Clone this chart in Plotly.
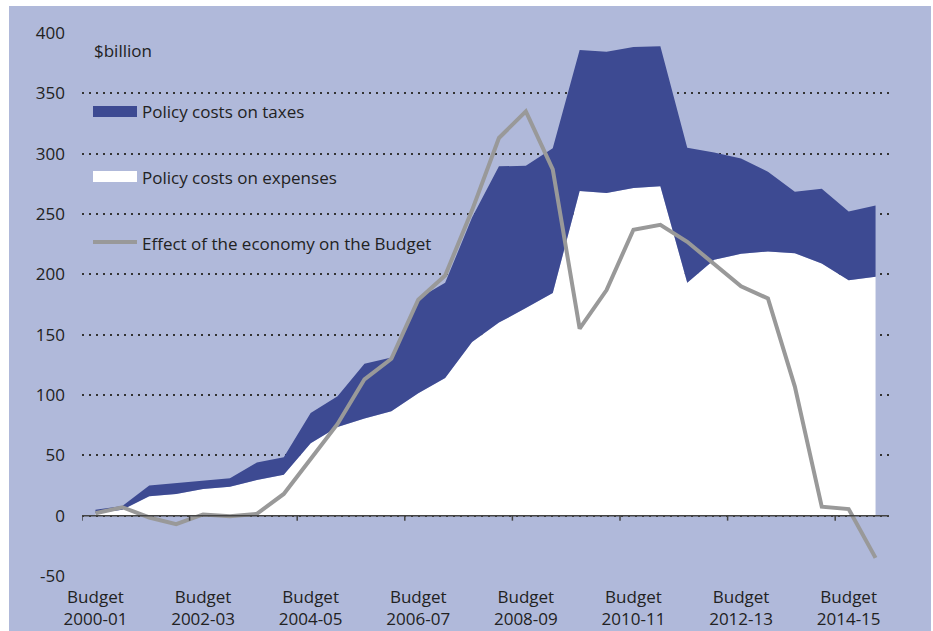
import plotly.graph_objects as go

# Half-yearly estimates: the Budget and the mid-year update for each financial year
years = ["2000-01", "2001-02", "2002-03", "2003-04", "2004-05", "2005-06", "2006-07",
         "2007-08", "2008-09", "2009-10", "2010-11", "2011-12", "2012-13", "2013-14",
         "2014-15"]
periods = []
for fy in years:
    periods += ["Budget " + fy, "MYEFO " + fy]

# $billion
expenses = [2, 5, 16, 18, 22, 24, 29.5, 34, 60, 73.5, 80.5, 86.5, 101.5, 114, 144,
            160, 172, 184.5, 269, 267.5, 271.5, 273, 193, 212, 217, 219, 217.5, 209,
            195, 198]
taxes = [3, 3, 9, 9, 7, 7, 14.5, 14.5, 25, 25.5, 45.5, 44.5, 78.5, 79, 103, 129.5,
         118, 120, 117, 117, 117, 116, 112, 89, 79, 66, 51, 62, 57, 59]
economy = [2, 7, -1.5, -7, 1, -0.5, 1.5, 18, 47, 76, 113, 130, 179, 199, 253, 313,
           335, 287, 155, 187, 237, 241, 227, 209, 190, 180, 107, 7.5, 5.5, -35]

# every second Budget is labelled
label_periods = periods[0::4]
label_text = ["Budget<br>" + p.split(" ")[1] for p in label_periods]
y_ticks = list(range(-50, 401, 50))
y_text = [str(v) for v in y_ticks]

BG = "#B0B9DA"
BLUE = "#3D4A92"
GREY = "#999999"
INK = "#222222"
AXIS = "#444444"
FONT = "Open Sans"

W, H = 933, 631
ML, MR, MT, MB = 82, 44, 33, 55
PW, PH = W - ML - MR, H - MT - MB


def px_x(x):
    return (x - ML) / PW


def px_y(y):
    return (H - MB - y) / PH


fig = go.Figure()
fig.add_trace(go.Scatter(
    x=periods, y=expenses, name="Policy costs on expenses", stackgroup="policy",
    mode="lines", line=dict(width=0, color="white"), fillcolor="white",
    showlegend=False))
fig.add_trace(go.Scatter(
    x=periods, y=taxes, name="Policy costs on taxes", stackgroup="policy",
    mode="lines", line=dict(width=0, color=BLUE), fillcolor=BLUE,
    showlegend=False))
fig.add_trace(go.Scatter(
    x=periods, y=economy, name="Effect of the economy on the Budget",
    mode="lines", line=dict(width=4, color=GREY), showlegend=False))

shapes = [
    # panel background
    dict(type="rect", xref="paper", yref="paper", layer="below",
         x0=px_x(9), x1=px_x(931), y0=px_y(H), y1=px_y(6),
         fillcolor=BG, line=dict(width=0)),
    # horizontal axis at zero
    dict(type="line", xref="paper", yref="y", layer="above",
         x0=0, x1=1, y0=0, y1=0, line=dict(color=AXIS, width=1.5)),
]
# tick marks separating each pair of financial years
for p in label_periods:
    xt = periods.index(p) - 0.5
    shapes.append(dict(type="line", xref="x", yref="y", layer="above",
                       ysizemode="pixel", yanchor=0, y0=0, y1=-5,
                       x0=xt, x1=xt, line=dict(color=AXIS, width=1.5)))

# key
shapes += [
    dict(type="rect", xref="paper", yref="paper", layer="above",
         x0=px_x(93), x1=px_x(137), y0=px_y(117), y1=px_y(106),
         fillcolor=BLUE, line=dict(width=0)),
    dict(type="rect", xref="paper", yref="paper", layer="above",
         x0=px_x(93), x1=px_x(137), y0=px_y(182), y1=px_y(171),
         fillcolor="white", line=dict(width=0)),
    dict(type="line", xref="paper", yref="paper", layer="above",
         x0=px_x(93), x1=px_x(137), y0=px_y(242), y1=px_y(242),
         line=dict(color=GREY, width=4)),
]

key_text = [
    ("$billion", 92, 50),
    ("Policy costs on taxes", 140, 111.5),
    ("Policy costs on expenses", 140, 177.5),
    ("Effect of the economy on the Budget", 140, 243),
]
annotations = [
    dict(text=t, x=px_x(x), y=px_y(y), xref="paper", yref="paper",
         xanchor="left", yanchor="middle", showarrow=False,
         font=dict(family=FONT, size=17, color=INK))
    for t, x, y in key_text
]

fig.update_layout(
    width=W, height=H,
    margin=dict(l=ML, r=MR, t=MT, b=MB, pad=0),
    paper_bgcolor="white", plot_bgcolor=BG,
    font=dict(family=FONT, size=17, color=INK),
    shapes=shapes, annotations=annotations,
    xaxis=dict(type="category", range=[-0.5, len(periods) - 0.5],
               tickmode="array", tickvals=[periods.index(p) for p in label_periods],
               ticktext=label_text, ticks="", showgrid=False, showline=False,
               zeroline=False, ticklabelstandoff=9, automargin=False,
               tickfont=dict(family=FONT, size=17, color=INK)),
    yaxis=dict(range=[-50, 400], tickmode="array", tickvals=y_ticks,
               ticktext=y_text, ticks="", showgrid=True, gridcolor="#333333",
               gridwidth=1.5, griddash="2px,5px", zeroline=False, showline=False,
               ticklabelstandoff=16, automargin=False,
               tickfont=dict(family=FONT, size=17, color=INK)),
)

fig.write_html("out.html")
